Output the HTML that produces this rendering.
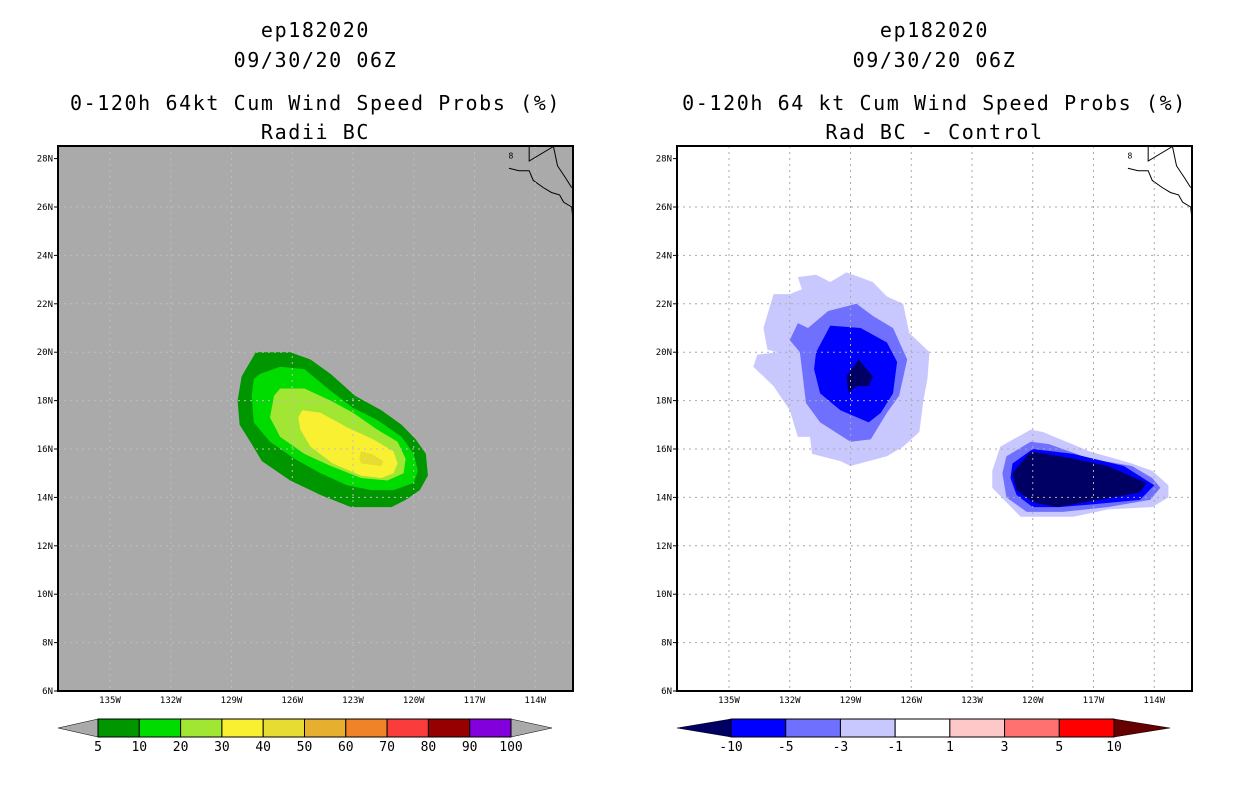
<!DOCTYPE html>
<html><head><meta charset="utf-8"><style>
body{margin:0;background:#fff;width:1236px;height:800px;overflow:hidden;font-family:"Liberation Sans",sans-serif}
svg{position:absolute;left:0;top:0}
</style></head><body>
<svg id="chart" width="1236" height="800"></svg>
<script>
// ---- data ----
const latTicks=[6,8,10,12,14,16,18,20,22,24,26,28];
const lonTicks=[135,132,129,126,123,120,117,114];
const leftLevels=["5","10","20","30","40","50","60","70","80","90","100"];
const leftColors=["#009600","#00dc00","#a0e632","#faf032","#e6dc32","#e6af2d","#f08228","#fa3c3c","#960000","#8200dc"];
const rightLevels=["-10","-5","-3","-1","1","3","5","10"];
const rightColors=["#000064","#0000ff","#7070ff","#c8c8ff","#ffffff","#ffc8c8","#ff7070","#ff0000","#640000"];
// contour polygons [lonW, latN]
const left5=[[127.8,20.0],[126.1,20.0],[125.1,19.7],[124.1,19.1],[122.9,18.2],[121.6,17.6],[120.6,17.0],[119.9,16.4],[119.4,15.8],[119.3,14.9],[119.7,14.3],[120.4,13.9],[121.1,13.6],[123.1,13.6],[124.6,14.1],[126.1,14.7],[127.5,15.5],[128.0,16.2],[128.6,17.0],[128.7,18.0],[128.5,19.0]];
const left10=[[127.6,19.1],[126.6,19.4],[125.4,19.3],[124.1,18.4],[123.0,17.7],[121.8,17.2],[120.6,16.5],[120.0,15.8],[119.8,15.1],[120.0,14.6],[121.0,14.3],[122.1,14.3],[123.3,14.5],[124.6,15.0],[125.9,15.6],[127.1,16.3],[127.9,17.1],[128.0,18.2],[127.9,18.9]];
const left20=[[126.6,18.5],[125.4,18.5],[124.1,18.0],[123.0,17.5],[121.8,16.8],[120.8,16.3],[120.4,15.6],[120.5,15.0],[121.3,14.7],[122.6,14.8],[124.1,15.3],[125.4,15.8],[126.6,16.5],[127.1,17.3],[126.9,18.2]];
const left30=[[125.5,17.6],[124.6,17.5],[123.3,16.9],[122.0,16.4],[121.0,15.9],[120.8,15.4],[121.0,15.0],[121.6,14.8],[122.6,14.9],[124.0,15.4],[125.1,16.1],[125.6,16.8],[125.7,17.3]];
const left40=[[122.6,15.9],[122.1,15.8],[121.5,15.5],[121.6,15.3],[122.6,15.4],[122.7,15.6]];
const rA1=[[131.6,23.1],[130.7,23.2],[130.0,22.9],[129.2,23.3],[127.9,22.9],[127.2,22.3],[126.4,22.0],[126.1,20.8],[125.1,20.0],[125.2,18.9],[125.4,18.0],[125.6,16.7],[126.4,16.1],[127.2,15.7],[129.0,15.3],[129.5,15.5],[130.9,15.8],[131.0,16.5],[131.6,16.5],[132.0,17.6],[132.8,18.6],[133.8,19.4],[133.6,19.9],[132.6,20.0],[133.1,20.1],[133.3,21.0],[132.8,22.4],[132.0,22.4],[131.4,22.6]];
const rB1=[[131.6,21.2],[131.1,21.0],[130.1,21.7],[128.7,22.0],[127.9,21.5],[126.9,21.0],[126.2,19.7],[126.6,18.2],[127.2,17.5],[128.0,16.4],[129.0,16.3],[130.5,17.1],[131.2,17.9],[131.5,20.0],[132.0,20.5]];
const rC1=[[130.0,21.1],[128.5,21.0],[127.2,20.4],[126.7,19.6],[126.9,18.3],[127.5,17.5],[128.1,17.1],[129.5,17.6],[130.5,18.3],[130.8,19.3],[130.7,20.0]];
const rD1=[[128.6,19.7],[127.9,19.0],[128.1,18.6],[128.7,18.6],[129.1,18.3],[129.2,19.0]];
const rA2=[[121.6,16.1],[120.1,16.8],[119.5,16.7],[117.2,15.9],[115.1,15.4],[114.1,15.1],[113.3,14.5],[113.3,14.0],[114.1,13.6],[116.3,13.5],[118.0,13.2],[119.6,13.2],[120.6,13.2],[121.3,13.8],[122.0,14.4],[122.0,15.1]];
const rB2=[[121.3,15.7],[120.1,16.3],[119.2,16.2],[117.2,15.6],[115.1,15.3],[114.1,14.8],[113.7,14.4],[114.2,13.9],[116.3,13.6],[118.5,13.4],[120.3,13.4],[121.3,14.0],[121.5,15.0]];
const rC2=[[121.0,15.4],[120.0,16.0],[118.0,15.8],[115.5,15.3],[114.0,14.5],[114.7,13.9],[117.2,13.7],[118.7,13.6],[120.0,13.6],[120.8,14.1],[121.1,14.8]];
const rD2=[[121.0,15.0],[120.1,15.9],[118.0,15.6],[116.3,15.3],[114.4,14.6],[114.7,14.2],[116.7,13.9],[118.8,13.6],[120.0,13.8],[120.8,14.3]];
const coastMain=[[115.3,27.6],[114.8,27.5],[114.3,27.5],[114.1,27.1],[113.6,26.8],[113.2,26.6],[112.8,26.5],[112.6,26.2],[112.2,26.0],[112.1,25.2],[112.0,24.8],[111.9,24.4]];
const coastGulf=[[114.3,28.5],[114.3,27.9],[113.1,28.5],[112.9,27.7],[112.5,27.2],[112.2,26.8]];
// ---- axes ----
const P=[{x0:58,bg:"#aaaaaa",grid:"#bdbdbd"},{x0:677,bg:"#ffffff",grid:"#aaaaaa"}];
const T=146,B=691,W=515;
function X(p,lon){return P[p].x0+52+(135-lon)*20.25;}
function Y(lat){return B-(lat-6)*24.2;}
const NS="http://www.w3.org/2000/svg";
const svg=document.getElementById('chart');
function mk(tag,attrs,parent){const e=document.createElementNS(NS,tag);for(const k in attrs)e.setAttribute(k,attrs[k]);(parent||svg).appendChild(e);return e;}
const defs=mk('defs',{});
for(let p=0;p<2;p++){const c=mk('clipPath',{id:'clip'+p},defs);mk('rect',{x:P[p].x0,y:T,width:W,height:B-T},c);}
function poly(p,pts,fill,name){const e=mk('polygon',{points:pts.map(q=>X(p,q[0])+','+Y(q[1])).join(' '),fill:fill,'clip-path':'url(#clip'+p+')'});

}
function line(p,pts,name){const e=mk('polyline',{points:pts.map(q=>X(p,q[0])+','+Y(q[1])).join(' '),fill:'none',stroke:'#000','stroke-width':1,'clip-path':'url(#clip'+p+')'});

}
function txt(x,y,s,size,anchor,name,ls){const e=mk('text',{x:x,y:y,'font-size':size,'text-anchor':anchor||'middle',fill:'#000','font-family':'"DejaVu Sans Mono","Liberation Mono",monospace','letter-spacing':ls||0});e.textContent=s;

return e;}
const titles=[["ep182020","09/30/20 06Z","0-120h 64kt Cum Wind Speed Probs (%)","Radii BC"],["ep182020","09/30/20 06Z","0-120h 64 kt Cum Wind Speed Probs (%)","Rad BC - Control"]];
for(let p=0;p<2;p++){
  const x0=P[p].x0, cx=x0+W/2;
  const bg=mk('rect',{x:x0,y:T,width:W,height:B-T,fill:P[p].bg});
  
  
  if(p===0){poly(0,left5,leftColors[0],'contour-5');poly(0,left10,leftColors[1],'contour-10');poly(0,left20,leftColors[2],'contour-20');poly(0,left30,leftColors[3],'contour-30');poly(0,left40,leftColors[4],'contour-40');}
  else{poly(1,rA1,rightColors[3],'contour-west-m1');poly(1,rB1,rightColors[2],'contour-west-m3');poly(1,rC1,rightColors[1],'contour-west-m5');poly(1,rD1,rightColors[0],'contour-west-m10');
       poly(1,rA2,rightColors[3],'contour-east-m1');poly(1,rB2,rightColors[2],'contour-east-m3');poly(1,rC2,rightColors[1],'contour-east-m5');poly(1,rD2,rightColors[0],'contour-east-m10');}
  line(p,coastMain,'coastline');line(p,coastGulf,'gulf-coastline');
  txt(X(p,115.2),Y(28.0),'8',8,'middle','island');
  for(const lon of lonTicks){const g=mk('line',{x1:X(p,lon),x2:X(p,lon),y1:T,y2:B,stroke:P[p].grid,'stroke-dasharray':'2,4'});
    
    
    txt(X(p,lon),703,lon+'W',9,'middle','x-tick-label');}
  for(const lat of latTicks){if(lat>6&&lat<28){const g=mk('line',{x1:x0,x2:x0+W,y1:Y(lat),y2:Y(lat),stroke:P[p].grid,'stroke-dasharray':'2,4'});
    
    }
    const tk=mk('line',{x1:x0-4,x2:x0,y1:Y(lat),y2:Y(lat),stroke:'#000'});
    
    
    txt(x0-5,Y(lat)+3,lat+'N',9,'end','y-tick-label');}
  const fr=mk('rect',{x:x0,y:T,width:W,height:B-T,fill:'none',stroke:'#000','stroke-width':2});
  
  
  const ys=[37,67,110,139];
  for(let i=0;i<4;i++)txt(cx,ys[i],titles[p][i],20,'middle','title-line-'+(i+1),1.6);
}
// colorbars
function cbar(left,right,colors,labels,triL,triR,boxStart,boxEnd,name){
  const nb=colors.length-(triL?1:0)-(triR?1:0);
  const w=(boxEnd-boxStart)/nb, y1=719,y2=737,ym=728;
  const tl=mk('polygon',{points:`${left},${ym} ${boxStart},${y1} ${boxStart},${y2}`,fill:triL||'#aaa',stroke:'#000','stroke-width':0.5});
  
  
  const tr=mk('polygon',{points:`${right},${ym} ${boxEnd},${y1} ${boxEnd},${y2}`,fill:triR||'#aaa',stroke:'#000','stroke-width':0.5});
  
  
  const off=triL?1:0;
  for(let i=0;i<nb;i++){const r=mk('rect',{x:boxStart+i*w,y:y1,width:w,height:y2-y1,fill:colors[i+off],stroke:'#000','stroke-width':1});
    
    }
  for(let i=0;i<labels.length;i++)txt(boxStart+i*w,751,labels[i],13,'middle',name+'-label');
}
cbar(58,552,leftColors,leftLevels,null,null,98,511,'left-colorbar');
cbar(677,1170,rightColors,rightLevels,rightColors[0],rightColors[8],731,1114,'right-colorbar');
</script>
</body></html>
